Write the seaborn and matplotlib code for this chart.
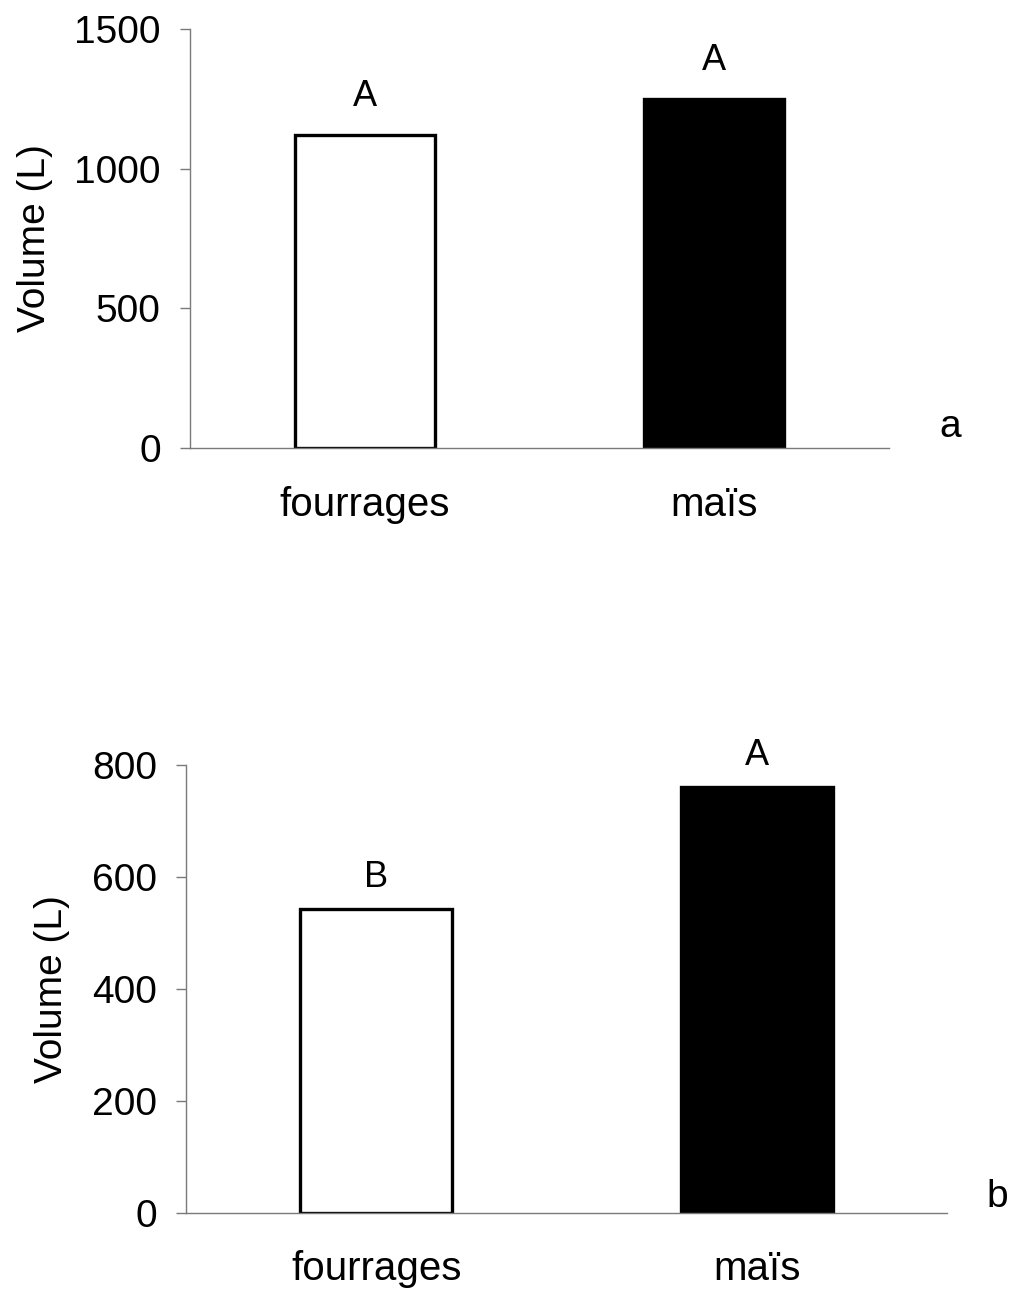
import matplotlib
matplotlib.use("Agg")
import matplotlib.pyplot as plt
import seaborn as sns
import pandas as pd

# Data
categories = ["fourrages", "maïs"]
volume_a = [1120, 1250]
volume_b = [543, 760]
letters_a = ["A", "A"]
letters_b = ["B", "A"]

sns.set_theme(style="white")
plt.rcParams["font.family"] = ["Liberation Sans", "DejaVu Sans"]
plt.rcParams["text.color"] = "black"

W, H = 1011, 1293
fig = plt.figure(figsize=(W / 100, H / 100), dpi=100)
fig.patch.set_facecolor("white")


def px_axes(left, right, top, bottom):
    return fig.add_axes([left / W, 1 - bottom / H, (right - left) / W, (bottom - top) / H])


ax_a = px_axes(190, 889, 29, 448)
ax_b = px_axes(186, 947, 765, 1213)

axis_grey = "#7a7a7a"


def draw_panel(ax, values, letters, ymax, ystep, gap_pt, label_x):
    df = pd.DataFrame({"cat": categories, "vol": values})
    sns.barplot(data=df, x="cat", y="vol", hue="cat", palette=["white", "black"],
                edgecolor="black", linewidth=2.4, width=0.4, legend=False, ax=ax)
    ax.set_xlim(-0.5, 1.5)
    ax.set_ylim(0, ymax)
    ax.set_yticks(range(0, ymax + 1, ystep))
    ax.set_facecolor("white")
    for side in ("top", "right"):
        ax.spines[side].set_visible(False)
    for side in ("left", "bottom"):
        ax.spines[side].set_color(axis_grey)
        ax.spines[side].set_linewidth(1.0)
    # category labels centred, boundary ticks as minor ticks
    ax.set_xticks([0, 1])
    ax.set_xticklabels(categories)
    ax.set_xticks([-0.5, 0.5, 1.5], minor=True)
    ax.tick_params(axis="x", which="major", length=0, pad=27, labelsize=29, labelcolor="black")
    ax.tick_params(axis="x", which="minor", length=7, width=1.0, color=axis_grey, direction="out")
    ax.tick_params(axis="y", which="major", length=7, width=1.0, color=axis_grey,
                   direction="out", pad=14, labelsize=28, labelcolor="black", left=True)
    ax.set_xlabel("")
    ax.set_ylabel("Volume (L)", fontsize=28, color="black")
    ax.yaxis.set_label_coords(label_x, 0.5)
    for i, (v, t) in enumerate(zip(values, letters)):
        ax.annotate(t, xy=(i, v), xytext=(0, gap_pt), textcoords="offset points",
                    ha="center", va="baseline", fontsize=26, color="black")


draw_panel(ax_a, volume_a, letters_a, 1500, 500, 21, -0.196)
draw_panel(ax_b, volume_b, letters_b, 800, 200, 16, -0.152)

# panel letters
fig.text(950 / W, 1 - 437 / H, "a", fontsize=28, ha="center", va="baseline", color="black")
fig.text(997 / W, 1 - 1207 / H, "b", fontsize=28, ha="center", va="baseline", color="black")

fig.savefig("out.png", dpi=100, facecolor="white")
